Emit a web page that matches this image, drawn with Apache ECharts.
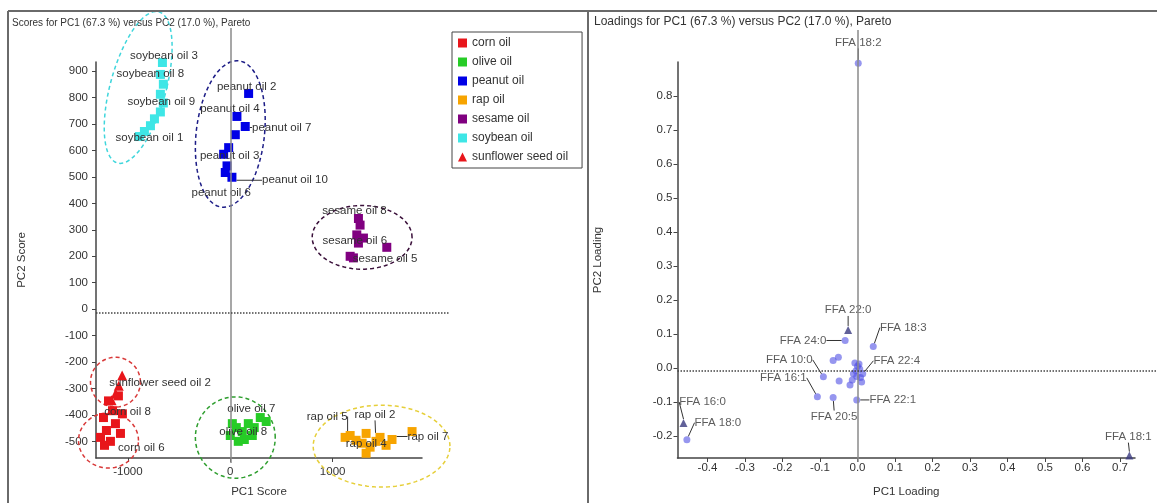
<!DOCTYPE html>
<html><head><meta charset="utf-8">
<script src="https://cdn.jsdelivr.net/npm/echarts@6/dist/echarts.min.js"></script>
<style>html,body{margin:0;padding:0;background:#fff}#c{width:1157px;height:503px}</style>
</head><body><div id="c"></div>
<script>
// ---------------- DATA ----------------
const oilNames = ['corn oil','olive oil','peanut oil','rap oil','sesame oil','soybean oil','sunflower seed oil'];

const cornX = [-1093,-1190,-1151,-1054,-1239,-1122,-1210,-1073,-1268,-1171,-1229];
const cornY = [-328,-347,-384,-396,-410,-433,-459,-470,-485,-500,-515];
const cornLabels = ['','','corn oil 8','','','','','','','corn oil 6',''];

const oliveX = [0,59,117,176,234,293,351,137,78,215,20];
const oliveY = [-478,-448,-463,-433,-448,-410,-425,-493,-500,-478,-433];
const oliveLabels = ['','','olive oil 8','olive oil 7','','','','','','',''];

const peanutX = [179,65,146,49,-16,-65,-32,16,-49];
const peanutY = [816,729,691,660,611,586,542,499,517];
const peanutLabels = ['peanut oil 2','peanut oil 4','peanut oil 7','','','peanut oil 3','','peanut oil 10','peanut oil 6'];

const rapX = [1122,1171,1229,1288,1327,1366,1424,1463,1522,1580,1776,1327];
const rapY = [-485,-478,-496,-507,-470,-522,-500,-485,-515,-493,-463,-545];
const rapLabels = ['','rap oil 5','','rap oil 4','','','','rap oil 2','','rap oil 7','',''];

const sesameX = [1252,1268,1236,1252,1529,1171,1203,1301];
const sesameY = [343,318,281,250,234,200,194,269];
const sesameLabels = ['sesame oil 8','','sesame oil 6','','','sesame oil 5','',''];

const soyX = [-663,-683,-654,-683,-654,-683,-741,-780,-839,-888];
const soyY = [933,888,851,813,780,746,720,694,672,653];
const soyLabels = ['soybean oil 3','soybean oil 8','','','soybean oil 9','','','','','soybean oil 1'];

const sunX = [-1057,-1090,-1120,-1160];
const sunY = [-251,-290,-320,-345];
const sunLabels = ['sunflower seed oil 2','','',''];

// confidence ellipses (centre, semi-axes, shear of top point)
const ellipseGroup = ['soybean oil','peanut oil','sesame oil','corn oil','sunflower seed oil','olive oil','rap oil'];
const ellipseCx = [-900, 0, 1288, -1190, -1122, 49, 1478];
const ellipseCy = [840, 666, 280, -479, -261, -468, -500];
const ellipseRx = [281, 335, 488, 293, 244, 390, 668];
const ellipseRy = [284, 274, 119, 103, 93, 152, 153];
const ellipseShear = [176, 65, 0, 0, 0, 0, 0];

// loadings
const loadLabels = ['FFA 18:2','FFA 22:0','FFA 24:0','FFA 18:3','','','FFA 10:0','FFA 16:1','','FFA 20:5','FFA 22:4','FFA 22:1',
  '','','','','','','','','','','','FFA 16:0','FFA 18:0','FFA 18:1'];
const loadX = [0.002,-0.025,-0.033,0.042,-0.051,-0.065,-0.091,-0.107,-0.049,-0.065,0.014,-0.002,
  -0.020,0.011,-0.011,0.000,-0.004,0.004,-0.007,0.006,-0.002,0.008,-0.014,-0.464,-0.455,0.725];
const loadY = [0.897,0.112,0.081,0.063,0.032,0.022,-0.026,-0.085,-0.038,-0.087,-0.017,-0.094,
  -0.050,-0.041,-0.017,0.005,-0.008,0.012,0.015,-0.003,-0.025,-0.028,-0.035,-0.162,-0.211,-0.258];

// tick labels
const scoreXTicks = [-1000, 0, 1000];
const scoreYTicks = [-500,-400,-300,-200,-100,0,100,200,300,400,500,600,700,800,900];
const loadXTicks = [-0.4,-0.3,-0.2,-0.1,0.0,0.1,0.2,0.3,0.4,0.5,0.6,0.7];
const loadYTicks = [-0.2,-0.1,0.0,0.1,0.2,0.3,0.4,0.5,0.6,0.7,0.8];

// ---------------- STYLE ----------------
const FF = "'Liberation Sans', Arial, sans-serif";
const TXT = '#333';
const oilColor = {
  'corn oil':'#e8161b','olive oil':'#26cc26','peanut oil':'#0000e6','rap oil':'#f7a400',
  'sesame oil':'#800080','soybean oil':'#3ee6e6','sunflower seed oil':'#e8161b'
};
const ellipseColor = {
  'soybean oil':'#3fd6dc','peanut oil':'#1c1c86','sesame oil':'#3a103a','corn oil':'#d83838',
  'sunflower seed oil':'#d83838','olive oil':'#2e9e2e','rap oil':'#e6cf3a'
};
const scoreLabelOffsets = {
  'soybean oil 3':[1.5,-7],'soybean oil 8':[-10,-1],'soybean oil 9':[-2,-1],'soybean oil 1':[10,1],
  'peanut oil 2':[-2,-7],'peanut oil 4':[-7,-8],'peanut oil 7':[36.5,1],'peanut oil 3':[6,2],
  'peanut oil 10':[63,3],'peanut oil 6':[-4,20],
  'sesame oil 8':[-4,-8],'sesame oil 6':[-2,6],'sesame oil 5':[35,3],
  'corn oil 8':[15,1],'corn oil 6':[31,6],'sunflower seed oil 2':[38,7],
  'olive oil 7':[3,-15],'olive oil 8':[1,0],
  'rap oil 5':[-23,-19],'rap oil 2':[-5,-23],'rap oil 4':[4,1],'rap oil 7':[36,-3]
};
const scoreLeaders = new Set(['peanut oil 7','peanut oil 10','rap oil 7','rap oil 5','rap oil 2','sesame oil 5']);
const loadLabelOffsets = {
  'FFA 18:2':[0,-21],'FFA 22:0':[0,-20],'FFA 18:3':[30,-19],'FFA 24:0':[-42,0],'FFA 10:0':[-34,-17],
  'FFA 16:1':[-34,-19],'FFA 22:4':[34,-13],'FFA 22:1':[36,0],'FFA 20:5':[1,19],'FFA 16:0':[19,-21],
  'FFA 18:0':[31,-17],'FFA 18:1':[-1,-19]
};
const loadTriangles = new Set(['FFA 22:0','FFA 16:0','FFA 18:1']);

// axis ranges / grid geometry
const S = {left:96, top:62, width:326, height:401, xMin:-1312, xMax:1873, yMin:-563, yMax:935};
const L = {left:677.5, top:62, width:457.5, height:400, xMin:-0.48, xMax:0.74, yMin:-0.265, yMax:0.901};
// overlay grids (same scale, other extent): zero lines and ellipses
const SO = {left:96, top:28, width:354, height:435};
const LO = {left:677.5, top:30, width:479.5, height:432};
const SE = {left:30, top:4, width:500, height:496};
function ext(g, o) {
  const xs = (g.xMax - g.xMin) / g.width, ys = (g.yMax - g.yMin) / g.height;
  const xMin = g.xMin - (g.left - o.left) * xs;
  const gBottom = g.top + g.height, oBottom = o.top + o.height;
  const yMin = g.yMin - (oBottom - gBottom) * ys;
  return {xMin, xMax:xMin + o.width*xs, yMin, yMax:yMin + o.height*ys};
}
const SOe = ext(S, SO), LOe = ext(L, LO), SEe = ext(S, SE);

const chart = echarts.init(document.getElementById('c'), null, {renderer:'canvas'});

function axisCommon(extra) {
  return Object.assign({
    type:'value', splitLine:{show:false},
    axisLine:{show:true, onZero:false, lineStyle:{color:'#444', width:1.5}},
    axisTick:{show:true, length:4, lineStyle:{color:'#444'}},
    axisLabel:{color:TXT, fontSize:11.5, fontFamily:FF},
    nameTextStyle:{color:TXT, fontSize:11.5, fontFamily:FF},
    nameLocation:'middle'
  }, extra);
}

function scoreSeries(name, xs, ys, labels, symbol) {
  return {
    type:'scatter', name, xAxisIndex:0, yAxisIndex:0, z:4,
    symbol, symbolSize: symbol === 'triangle' ? 10 : 9,
    itemStyle:{color:oilColor[name], opacity:1},
    data: xs.map((x, i) => ({value:[x, ys[i]], name:labels[i], labelLine:{show:scoreLeaders.has(labels[i])}})),
    label:{show:true, position:'inside', formatter:p => p.name, color:TXT, fontSize:11.5, fontFamily:FF},
    labelLine:{show:false, lineStyle:{color:'#333', width:1}},
    labelLayout: p => { const o = scoreLabelOffsets[p.text]; return o ? {dx:o[0], dy:o[1]} : {}; },
    emphasis:{disabled:true}, animation:false
  };
}

const ellipseSeries = ellipseGroup.map((g, k) => {
  const pts = [];
  for (let i = 0; i <= 120; i++) {
    const t = i / 120 * Math.PI * 2;
    pts.push([ellipseCx[k] + ellipseRx[k]*Math.cos(t) + ellipseShear[k]*Math.sin(t),
              ellipseCy[k] + ellipseRy[k]*Math.sin(t)]);
  }
  return {type:'line', name:'ellipse ' + g, xAxisIndex:4, yAxisIndex:4, data:pts, showSymbol:false, symbol:'none',
    clip:false, silent:true, z:2, lineStyle:{color:ellipseColor[g], width:1.5, type:[4,3]}, animation:false};
});

const loadSeries = {
  type:'scatter', name:'loadings', xAxisIndex:1, yAxisIndex:1, z:4,
  data: loadX.map((x, i) => {
    const tri = loadTriangles.has(loadLabels[i]);
    return {value:[x, loadY[i]], name:loadLabels[i], symbol: tri ? 'triangle' : 'circle', symbolSize: tri ? 8 : 7,
      itemStyle:{color: tri ? '#3a3a80' : 'rgba(80,80,228,0.75)'},
      labelLine:{show: loadLabels[i] !== ''}};
  }),
  label:{show:true, position:'inside', formatter:p => p.name, color:TXT, fontSize:11.5, fontFamily:FF},
  labelLine:{show:false, lineStyle:{color:'#333', width:1}},
  labelLayout: p => { const o = loadLabelOffsets[p.text]; return o ? {dx:o[0], dy:o[1]} : {}; },
  emphasis:{disabled:true}, animation:false
};

function zeroSeries(xi, yi) {
  return {type:'scatter', name:'zero' + xi, xAxisIndex:xi, yAxisIndex:yi, data:[], silent:true, z:1,
    markLine:{symbol:'none', silent:true, label:{show:false}, animation:false,
      data:[{xAxis:0, lineStyle:{color:'#8a8a8a', width:1.5, type:'solid'}},
            {yAxis:0, lineStyle:{color:'#444', width:1.5, type:[1.5,1.5]}}]}};
}

const option = {
  backgroundColor:'#fff',
  animation:false,
  title:[
    {text:'Scores for PC1 (67.3 %) versus PC2 (17.0 %), Pareto', left:12, top:18, padding:0,
      textStyle:{fontSize:10, fontWeight:'normal', color:TXT, fontFamily:FF}},
    {text:'Loadings for PC1 (67.3 %) versus PC2 (17.0 %), Pareto', left:594, top:16, padding:0,
      textStyle:{fontSize:12, fontWeight:'normal', color:TXT, fontFamily:FF}}
  ],
  legend:{
    orient:'vertical', left:452, top:32, padding:[5,14,5,6], borderColor:'#444', borderWidth:1,
    itemWidth:9, itemHeight:9, itemGap:7, selectedMode:false, backgroundColor:'#fff', z:10,
    textStyle:{fontSize:12, color:TXT, fontFamily:FF},
    data: oilNames.map(n => ({name:n, icon: n === 'sunflower seed oil' ? 'triangle' : 'rect'}))
  },
  grid:[
    {left:S.left, top:S.top, width:S.width, height:S.height, containLabel:false},
    {left:L.left, top:L.top, width:L.width, height:L.height, containLabel:false},
    {left:SO.left, top:SO.top, width:SO.width, height:SO.height, containLabel:false},
    {left:LO.left, top:LO.top, width:LO.width, height:LO.height, containLabel:false},
    {left:SE.left, top:SE.top, width:SE.width, height:SE.height, containLabel:false}
  ],
  xAxis:[
    axisCommon({gridIndex:0, min:S.xMin, max:S.xMax, name:'PC1 Score', nameGap:28,
      axisTick:{show:true, length:4, lineStyle:{color:'#444'}, customValues:scoreXTicks},
      axisLabel:{color:TXT, fontSize:11.5, fontFamily:FF, margin:8, customValues:scoreXTicks, formatter:v => String(v)}}),
    axisCommon({gridIndex:1, min:L.xMin, max:L.xMax, name:'PC1 Loading', nameGap:28,
      axisTick:{show:true, length:4, lineStyle:{color:'#444'}, customValues:loadXTicks},
      axisLabel:{color:TXT, fontSize:11.5, fontFamily:FF, margin:4, customValues:loadXTicks, formatter:v => v.toFixed(1)}}),
    {type:'value', gridIndex:2, min:SOe.xMin, max:SOe.xMax, show:false},
    {type:'value', gridIndex:3, min:LOe.xMin, max:LOe.xMax, show:false},
    {type:'value', gridIndex:4, min:SEe.xMin, max:SEe.xMax, show:false}
  ],
  yAxis:[
    axisCommon({gridIndex:0, min:S.yMin, max:S.yMax, name:'PC2 Score', nameGap:68, nameRotate:90,
      axisTick:{show:true, length:4, lineStyle:{color:'#444'}, customValues:scoreYTicks},
      axisLabel:{color:TXT, fontSize:11.5, fontFamily:FF, margin:8, customValues:scoreYTicks, formatter:v => String(v)}}),
    axisCommon({gridIndex:1, min:L.yMin, max:L.yMax, name:'PC2 Loading', nameGap:74, nameRotate:90,
      axisTick:{show:true, length:4, lineStyle:{color:'#444'}, customValues:loadYTicks},
      axisLabel:{color:TXT, fontSize:11.5, fontFamily:FF, margin:5, customValues:loadYTicks, formatter:v => v.toFixed(1)}}),
    {type:'value', gridIndex:2, min:SOe.yMin, max:SOe.yMax, show:false},
    {type:'value', gridIndex:3, min:LOe.yMin, max:LOe.yMax, show:false},
    {type:'value', gridIndex:4, min:SEe.yMin, max:SEe.yMax, show:false}
  ],
  graphic:[
    {type:'line', shape:{x1:8, y1:11, x2:1157, y2:11}, style:{stroke:'#6a6a6a', lineWidth:2}, silent:true, z:100},
    {type:'line', shape:{x1:8, y1:11, x2:8, y2:503}, style:{stroke:'#6a6a6a', lineWidth:2}, silent:true, z:100},
    {type:'line', shape:{x1:588, y1:11, x2:588, y2:503}, style:{stroke:'#6a6a6a', lineWidth:2}, silent:true, z:100}
  ],
  series:[
    zeroSeries(2, 2),
    zeroSeries(3, 3),
    ...ellipseSeries,
    scoreSeries('corn oil', cornX, cornY, cornLabels, 'rect'),
    scoreSeries('olive oil', oliveX, oliveY, oliveLabels, 'rect'),
    scoreSeries('peanut oil', peanutX, peanutY, peanutLabels, 'rect'),
    scoreSeries('rap oil', rapX, rapY, rapLabels, 'rect'),
    scoreSeries('sesame oil', sesameX, sesameY, sesameLabels, 'rect'),
    scoreSeries('soybean oil', soyX, soyY, soyLabels, 'rect'),
    scoreSeries('sunflower seed oil', sunX, sunY, sunLabels, 'triangle'),
    loadSeries
  ]
};
chart.setOption(option);
</script>
</body></html>
